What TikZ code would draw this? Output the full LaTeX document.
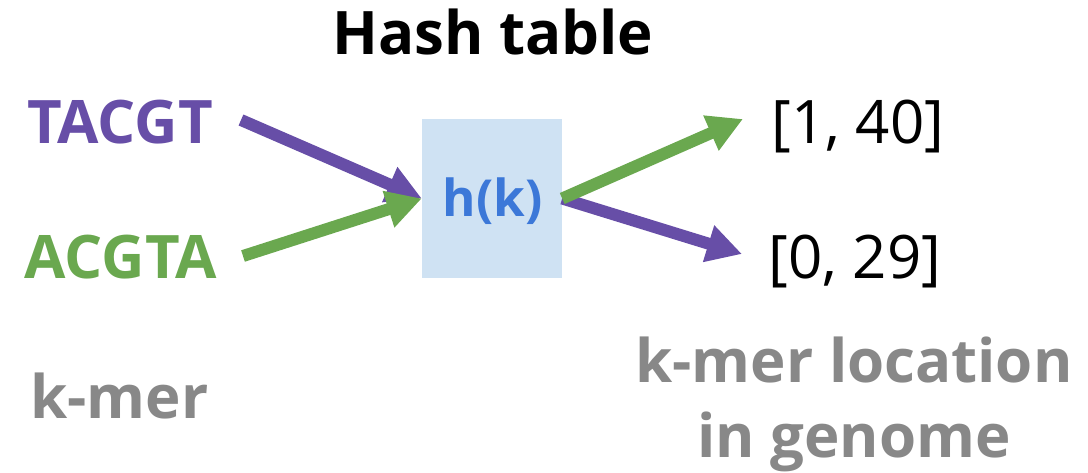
\documentclass[tikz,border=0pt]{standalone}
\usepackage{fontspec}
\setmainfont{Open Sans}
\usetikzlibrary{arrows.meta}
\definecolor{kpurple}{HTML}{674EA7}
\definecolor{kgreen}{HTML}{6AA84F}
\definecolor{kblue}{HTML}{3C78D8}
\definecolor{kbox}{HTML}{CFE2F3}
\definecolor{kgray}{HTML}{888888}
\tikzset{
  lbl/.style={inner sep=0pt, anchor=base},
  big/.style={font=\fontsize{60}{72}\selectfont\bfseries},
  num/.style={font=\fontsize{60}{72}\selectfont},
  arr/.style={line width=12pt, -{Triangle[length=35pt,width=36pt]}},
}
\begin{document}
\begin{tikzpicture}[x=1pt,y=-1pt]
\useasboundingbox (0,0) rectangle (1088,472);
\node[lbl, font=\fontsize{60}{72}\selectfont\bfseries] (title) at (493,54) {Hash table};
\node[lbl, big, text=kpurple] (tacgt) at (120,143) {TACGT};
\node[lbl, big, text=kgreen] (acgta) at (121,278) {ACGTA};
\node[lbl, big, text=kgray] (kmer) at (119.5,418) {k-mer};
\node[fill=kbox, minimum width=140pt, minimum height=159pt, inner sep=0pt] (hash) at (492,198.5) {};
\node[lbl, font=\fontsize{51}{61}\selectfont\bfseries, text=kblue] (hk) at (492.5,216) {h(k)};
\node[lbl, num] (loc1) at (858,143) {[1, 40]};
\node[lbl, num] (loc2) at (855,278) {[0, 29]};
\node[lbl, big, text=kgray] (locA) at (854,382) {k-mer location};
\node[lbl, big, text=kgray] (locB) at (854,457) {in genome};
\coordinate (s1) at (241,120);
\coordinate (s2) at (243,256);
\coordinate (e1) at (743,119);
\coordinate (e2) at (742,254);
\draw[arr, kpurple] (s1) -- (hash.west);
\draw[arr, kgreen] (s2) -- (hash.west);
\draw[arr, kpurple] (hash.east) -- (e2);
\draw[arr, kgreen] (hash.east) -- (e1);
\end{tikzpicture}
\end{document}
